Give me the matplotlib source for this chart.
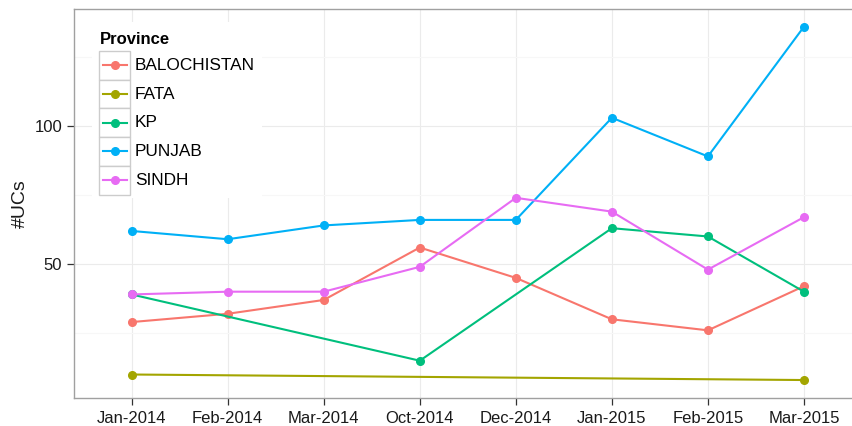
import numpy as np
import matplotlib
matplotlib.use("Agg")
import matplotlib.pyplot as plt
from matplotlib.patches import Rectangle

months = ['Jan-2014', 'Feb-2014', 'Mar-2014', 'Oct-2014', 'Dec-2014',
          'Jan-2015', 'Feb-2015', 'Mar-2015']
provinces = ['BALOCHISTAN', 'FATA', 'KP', 'PUNJAB', 'SINDH']
balochistan = [29, 32, 37, 56, 45, 30, 26, 42]
fata = [10, None, None, None, None, None, None, 8]
kp = [39, None, None, 15, None, 63, 60, 40]
punjab = [62, 59, 64, 66, 66, 103, 89, 136]
sindh = [39, 40, 40, 49, 74, 69, 48, 67]
series = [balochistan, fata, kp, punjab, sindh]
colors = ['#F8766D', '#A3A500', '#00BF7D', '#00B0F6', '#E76BF3']

plt.rcParams['font.family'] = ['Liberation Sans', 'DejaVu Sans']

W, H = 852, 426
fig = plt.figure(figsize=(W / 100, H / 100), dpi=100)
left, right, top, bottom = 74, 861.6, 9, 397.7
ax = fig.add_axes([left / W, 1 - bottom / H, (right - left) / W, (bottom - top) / H])

x = np.arange(len(months))
for vals, col in zip(series, colors):
    xs = [xi for xi, v in zip(x, vals) if v is not None]
    ys = [v for v in vals if v is not None]
    ax.plot(xs, ys, color=col, lw=1.5, marker='o', ms=5.5, mec=col, mfc=col, zorder=3,
            solid_capstyle='round')

allv = [v for s in series for v in s if v is not None]
lo, hi = min(allv), max(allv)
pad = (hi - lo) * 0.05
ax.set_ylim(lo - pad, hi + pad)
ax.set_xlim(-0.6, len(months) - 1 + 0.6)
ax.set_xticks(x)
ax.set_xticklabels(months)
ax.set_yticks([50, 100])
ax.set_yticks([25, 75, 125], minor=True)
ax.grid(True, which='major', color='#EBEBEB', lw=0.8, zorder=0)
ax.grid(True, which='minor', axis='y', color='#F7F7F7', lw=0.8, zorder=0)
ax.set_axisbelow(True)
for sp in ax.spines.values():
    sp.set_color('#A0A0A0')
    sp.set_linewidth(1.0)
ax.tick_params(axis='both', which='major', length=5, width=0.9, color='#333333',
               labelsize=12, labelcolor='#1A1A1A')
ax.tick_params(axis='x', pad=4.5)
ax.tick_params(axis='y', pad=3.5)
ax.tick_params(which='minor', length=0)

fig.text(20 / W, 1 - 204 / H, '#UCs', rotation=90, ha='center', va='center',
         fontsize=14, color='#1A1A1A')

# legend drawn in pixel coordinates on an overlay
lg = fig.add_axes([0, 0, 1, 1], facecolor='none')
lg.set_xlim(0, W)
lg.set_ylim(H, 0)
lg.axis('off')
lg.add_patch(Rectangle((92, 22), 170, 176, facecolor='white', edgecolor='none', zorder=1))
lg.text(100, 44, 'Province', fontsize=12, fontweight='bold', ha='left', va='baseline',
        color='black', zorder=3)
key_top, key_h = 51, 28.7
for i, (name, col) in enumerate(zip(provinces, colors)):
    y0 = key_top + i * key_h
    lg.add_patch(Rectangle((99, y0), 31, key_h, facecolor='white', edgecolor='#CCCCCC',
                           lw=1.0, zorder=2))
    cy = y0 + key_h / 2
    lg.plot([102.5, 126.5], [cy, cy], color=col, lw=1.5, zorder=3)
    lg.plot([114.5], [cy], marker='o', ms=5.5, color=col, zorder=4)
    lg.text(135, cy, name, fontsize=12.4, ha='left', va='center', color='black', zorder=3)

fig.savefig('out.png', dpi=100)
